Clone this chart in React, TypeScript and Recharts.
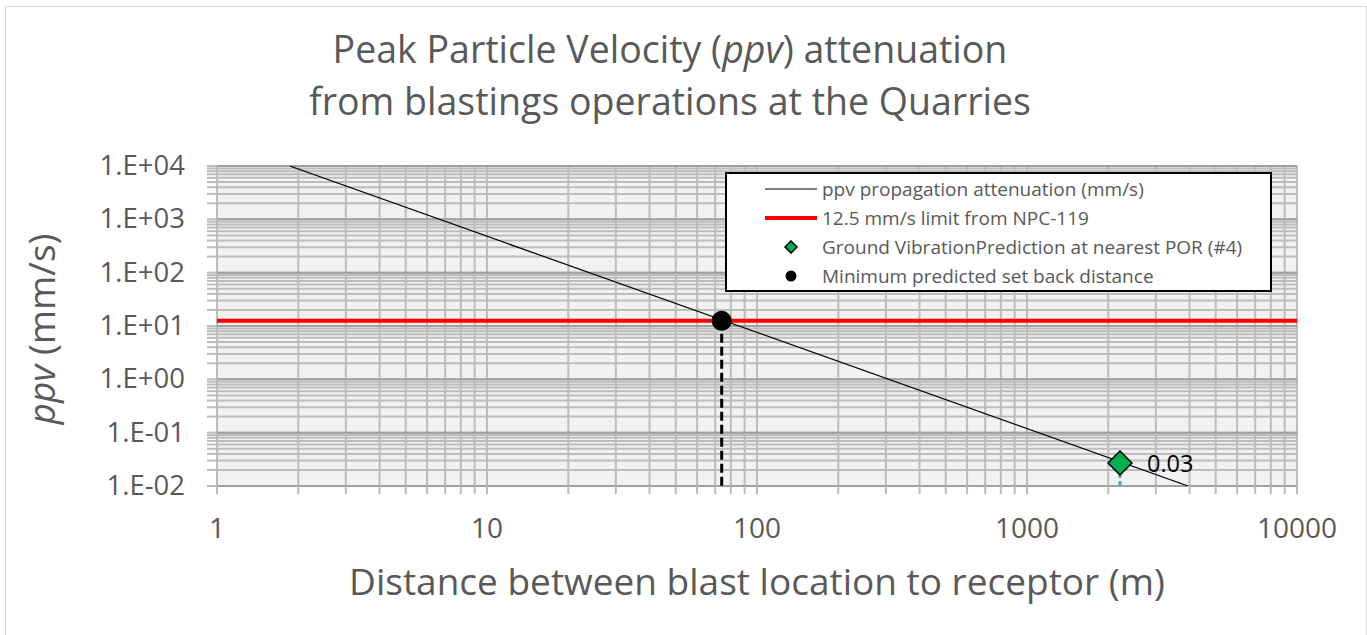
import React from 'react';
import {
  ComposedChart,
  Line,
  Scatter,
  XAxis,
  YAxis,
  CartesianGrid,
  ReferenceLine,
  Legend,
} from 'recharts';

// values
const attenuationDistance = [1.86, 3950];
const attenuationPpv = [10000, 0.01];
const limitDistance = [1, 10000];
const limitPpv = [12.5, 12.5];
const porDistance = [2210];
const porPpv = [0.027];
const setbackDistance = [74];
const setbackPpv = [12.5];

const xDecades = [1, 10, 100, 1000, 10000];
const yDecades = [0.01, 0.1, 1, 10, 100, 1000, 10000];
const minorSteps = [2, 3, 4, 5, 6, 7, 8, 9];

const seriesNames = [
  'ppv propagation attenuation (mm/s)',
  '12.5 mm/s limit from NPC-119',
  'Ground VibrationPrediction at nearest POR (#4)',
  'Minimum predicted set back distance',
];

const toPoints = (d: number[], v: number[]) => d.map((x, i) => ({ d: x, v: v[i] }));
const attenuationData = toPoints(attenuationDistance, attenuationPpv);
const limitData = toPoints(limitDistance, limitPpv);
const porData = toPoints(porDistance, porPpv);
const setbackData = toPoints(setbackDistance, setbackPpv);

const withMinors = (decades: number[]) =>
  [...decades, ...decades.slice(0, -1).flatMap((t) => minorSteps.map((m) => m * t))].sort((a, b) => a - b);
const xTicks = withMinors(xDecades);
const yTicks = withMinors(yDecades);

const FONT = "'Open Sans', sans-serif";
const TEXT = '#595959';
const GRID = '#bcbcbc';

const isDecade = (v: number) => Math.abs(Math.log10(v) - Math.round(Math.log10(v))) < 1e-9;
const sci = (v: number) => {
  const e = Math.round(Math.log10(v));
  return `1.E${e < 0 ? '-' : '+'}${String(Math.abs(e)).padStart(2, '0')}`;
};

const XTick = (props: any) => {
  const { x, y, payload } = props;
  if (!isDecade(payload.value)) return <g />;
  return (
    <text x={x} y={y + 44} textAnchor="middle" fill={TEXT} fontSize={28} fontFamily={FONT}>
      {payload.value}
    </text>
  );
};

const YTick = (props: any) => {
  const { x, y, payload } = props;
  if (!isDecade(payload.value)) return <g />;
  return (
    <text x={x - 22} y={y + 9} textAnchor="end" fill={TEXT} fontSize={27.5} fontFamily={FONT}>
      {sci(payload.value)}
    </text>
  );
};

const Diamond = ({ cx, cy, r, label }: { cx: number; cy: number; r: number; label?: string }) => (
  <g>
    <polygon
      points={`${cx},${cy - r} ${cx + r},${cy} ${cx},${cy + r} ${cx - r},${cy}`}
      fill="#00b050"
      stroke="#000"
      strokeWidth={1.5}
    />
    {label && (
      <text x={cx + 27} y={cy + 9} fill="#000" fontSize={23.5} fontFamily={FONT}>
        {label}
      </text>
    )}
  </g>
);

const LegendBox = () => {
  const icons = [
    <svg width={60} height={12}><line x1={4} y1={6} x2={56} y2={6} stroke="#000" strokeWidth={1} /></svg>,
    <svg width={60} height={12}><line x1={4} y1={6} x2={56} y2={6} stroke="#ff0000" strokeWidth={4} /></svg>,
    <svg width={60} height={14}><polygon points="30,1 36,7 30,13 24,7" fill="#00b050" stroke="#000" strokeWidth={1.5} /></svg>,
    <svg width={60} height={14}><circle cx={30} cy={7} r={5.5} fill="#000" /></svg>,
  ];
  return (
    <div
      style={{
        boxSizing: 'border-box',
        width: 547,
        height: 120,
        border: '2px solid #000',
        background: '#fff',
        fontFamily: FONT,
        fontSize: 19,
        color: TEXT,
      }}
    >
      {seriesNames.map((name, i) => (
        <div key={name} style={{ display: 'flex', alignItems: 'center', height: 29 }}>
          <div style={{ width: 34 }} />
          <div style={{ width: 60, display: 'flex', justifyContent: 'center' }}>{icons[i]}</div>
          <span style={{ marginLeft: 1, whiteSpace: 'nowrap' }}>{name}</span>
        </div>
      ))}
    </div>
  );
};

export default function App() {
  return (
    <div style={{ position: 'absolute', left: 0, top: 0, width: 1367, height: 635, background: '#fff', overflow: 'hidden' }}>
      <div style={{ position: 'absolute', left: 5, top: 6, width: 1360, height: 700, border: '1px solid #d9d9d9' }} />
      <svg width={1367} height={140} style={{ position: 'absolute', left: 0, top: 0 }}>
        <text x={670} y={63} textAnchor="middle" fill={TEXT} fontSize={37.5} fontFamily={FONT}>
          Peak Particle Velocity (<tspan fontStyle="italic">ppv</tspan>) attenuation
        </text>
        <text x={670} y={115} textAnchor="middle" fill={TEXT} fontSize={37.5} fontFamily={FONT}>
          from blastings operations at the Quarries
        </text>
      </svg>
      <div style={{ position: 'absolute', left: 0, top: 0 }}>
        <ComposedChart width={1367} height={635} margin={{ top: 166, right: 70, bottom: 0, left: 0 }}>
          <CartesianGrid fill="#f2f2f2" stroke={GRID} strokeWidth={2} />
          <XAxis
            dataKey="d"
            type="number"
            scale="log"
            domain={[1, 10000]}
            allowDataOverflow
            ticks={xTicks}
            interval={0}
            height={149}
            axisLine={false}
            tickSize={8}
            tickMargin={0}
            tickLine={{ stroke: GRID, strokeWidth: 2 }}
            tick={<XTick />}
            label={(p: any) => {
              const vb = p.viewBox;
              return (
                <text x={vb.x + vb.width / 2} y={vb.y + 109} textAnchor="middle" fill={TEXT} fontSize={37} fontFamily={FONT}>
                  Distance between blast location to receptor (m)
                </text>
              );
            }}
          />
          <YAxis
            dataKey="v"
            type="number"
            scale="log"
            domain={[0.01, 10000]}
            allowDataOverflow
            ticks={yTicks}
            interval={0}
            width={217}
            axisLine={false}
            tickSize={10}
            tickMargin={0}
            tickLine={{ stroke: GRID, strokeWidth: 2 }}
            tick={<YTick />}
            label={(p: any) => {
              const vb = p.viewBox;
              const cx = 55;
              const cy = vb.y + vb.height / 2 + 3;
              return (
                <text x={cx} y={cy} transform={`rotate(-90 ${cx} ${cy})`} textAnchor="middle" fill={TEXT} fontSize={37} fontFamily={FONT}>
                  <tspan fontStyle="italic">ppv</tspan> (mm/s)
                </text>
              );
            }}
          />
          {yDecades.map((v) => (
            <ReferenceLine key={`y${v}`} y={v} stroke="#a0a0a0" strokeWidth={2} />
          ))}
          <Legend
            layout="vertical"
            align="center"
            verticalAlign="middle"
            wrapperStyle={{ left: 725, top: 172, width: 547, height: 120 }}
            content={() => <LegendBox />}
          />
          <Line
            data={limitData}
            dataKey="v"
            name={seriesNames[1]}
            stroke="#ff0000"
            strokeWidth={4}
            dot={false}
            isAnimationActive={false}
          />
          <Line
            data={attenuationData}
            dataKey="v"
            name={seriesNames[0]}
            stroke="#000"
            strokeWidth={1.2}
            dot={false}
            isAnimationActive={false}
          />
          <ReferenceLine
            segment={[
              { x: setbackDistance[0], y: setbackPpv[0] },
              { x: setbackDistance[0], y: yDecades[0] },
            ]}
            stroke="#000"
            strokeWidth={3}
            strokeDasharray="9 4"
          />
          <ReferenceLine
            segment={[
              { x: porDistance[0], y: porPpv[0] },
              { x: porDistance[0], y: yDecades[0] },
            ]}
            stroke="#4bacc6"
            strokeWidth={3}
            strokeDasharray="6 3"
          />
          <Scatter
            data={porData}
            dataKey="v"
            name={seriesNames[2]}
            isAnimationActive={false}
            shape={(p: any) => <Diamond cx={p.cx} cy={p.cy} r={12} label={p.payload.v.toFixed(2)} />}
          />
          <Scatter
            data={setbackData}
            dataKey="v"
            name={seriesNames[3]}
            isAnimationActive={false}
            shape={(p: any) => <circle cx={p.cx} cy={p.cy} r={10} fill="#000" />}
          />
        </ComposedChart>
      </div>
    </div>
  );
}
